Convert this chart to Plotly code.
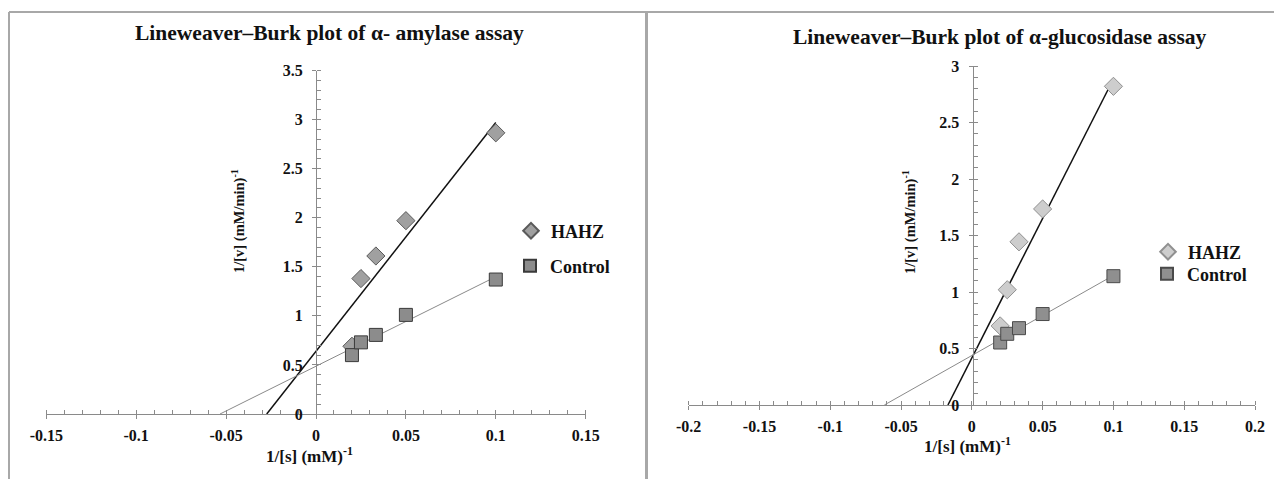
import numpy as np
import plotly.graph_objects as go

W, H = 1274, 479

# ---- data ----
s_inv = [0.02, 0.025, 0.0333, 0.05, 0.1]
amy_hahz = [0.69, 1.38, 1.61, 1.97, 2.865]
amy_ctrl = [0.60, 0.73, 0.806, 1.01, 1.37]
glu_hahz = [0.70, 1.02, 1.444, 1.735, 2.82]
glu_ctrl = [0.553, 0.63, 0.68, 0.805, 1.14]

amy_xticks = [-0.15, -0.1, -0.05, 0, 0.05, 0.1, 0.15]
amy_yticks = [0, 0.5, 1, 1.5, 2, 2.5, 3, 3.5]
glu_xticks = [-0.2, -0.15, -0.1, -0.05, 0, 0.05, 0.1, 0.15, 0.2]
glu_yticks = [0, 0.5, 1, 1.5, 2, 2.5, 3]

FONT = "Liberation Serif"

def px_x(p):
    return p / W

def px_y(p):
    return 1 - p / H

def fit_line(x, y):
    m, b = np.polyfit(x, y, 1)
    x0 = -b / m
    x1 = max(x)
    return [x0, x1], [m * x0 + b, m * x1 + b]

fig = go.Figure()

# ---- left: amylase ----
lx, ly = fit_line(s_inv, amy_hahz)
fig.add_trace(go.Scatter(x=lx, y=ly, mode="lines", line=dict(color="#111", width=1.5),
                         showlegend=False, xaxis="x", yaxis="y", hoverinfo="skip"))
lx, ly = fit_line(s_inv, amy_ctrl)
fig.add_trace(go.Scatter(x=lx, y=ly, mode="lines", line=dict(color="#8a8a8a", width=1),
                         showlegend=False, xaxis="x", yaxis="y", hoverinfo="skip"))
fig.add_trace(go.Scatter(x=s_inv, y=amy_hahz, mode="markers", name="HAHZ",
                         marker=dict(symbol="diamond", size=14, color="#a0a0a0",
                                     line=dict(color="#5a5a5a", width=1)),
                         xaxis="x", yaxis="y", legend="legend"))
fig.add_trace(go.Scatter(x=s_inv, y=amy_ctrl, mode="markers", name="Control",
                         marker=dict(symbol="square", size=13, color="#8c8c8c",
                                     line=dict(color="#3a3a3a", width=1)),
                         xaxis="x", yaxis="y", legend="legend2"))

# ---- right: glucosidase ----
lx, ly = fit_line(s_inv, glu_hahz)
fig.add_trace(go.Scatter(x=lx, y=ly, mode="lines", line=dict(color="#111", width=1.5),
                         showlegend=False, xaxis="x2", yaxis="y2", hoverinfo="skip"))
lx, ly = fit_line(s_inv, glu_ctrl)
fig.add_trace(go.Scatter(x=lx, y=ly, mode="lines", line=dict(color="#8a8a8a", width=1),
                         showlegend=False, xaxis="x2", yaxis="y2", hoverinfo="skip"))
fig.add_trace(go.Scatter(x=s_inv, y=glu_hahz, mode="markers", name="HAHZ",
                         marker=dict(symbol="diamond", size=14, color="#cdcdcd",
                                     line=dict(color="#909090", width=1)),
                         xaxis="x2", yaxis="y2", legend="legend3"))
fig.add_trace(go.Scatter(x=s_inv, y=glu_ctrl, mode="markers", name="Control",
                         marker=dict(symbol="square", size=13, color="#8f8f8f",
                                     line=dict(color="#4a4a4a", width=1)),
                         xaxis="x2", yaxis="y2", legend="legend4"))

tickfont = dict(family=FONT, size=16, color="#111", weight="bold")
axcol = "#8a8a8a"

def xaxis(domain, rng, ticks, anchor):
    return dict(domain=domain, range=rng, tickvals=ticks, ticktext=[f"{t:g}" for t in ticks],
                showline=True, linecolor=axcol, linewidth=1, ticks="outside", ticklen=4,
                tickcolor=axcol, tickfont=tickfont, showgrid=False, zeroline=False,
                anchor=anchor, fixedrange=True, automargin=False, ticklabelstandoff=3,
                minor=dict(dtick=0.01, tick0=0, ticks="inside", ticklen=4, tickcolor=axcol,
                           showgrid=False))

def yaxis(domain, rng, ticks, position):
    return dict(domain=domain, range=rng, tickvals=ticks, ticktext=[f"{t:g}" for t in ticks],
                showline=True, linecolor=axcol, linewidth=1, ticks="outside", ticklen=4,
                tickcolor=axcol, tickfont=tickfont, showgrid=False, zeroline=False,
                anchor="free", position=position, fixedrange=True, automargin=False,
                ticklabelstandoff=6,
                minor=dict(dtick=0.1, tick0=0, ticks="inside", ticklen=4, tickcolor=axcol,
                           showgrid=False))

L_dom_x = [px_x(46.3), px_x(585.7)]
L_dom_y = [px_y(414), px_y(70.5)]
R_dom_x = [px_x(688.7), px_x(1255)]
R_dom_y = [px_y(405), px_y(66)]

legfont = dict(family=FONT, size=18, color="#111", weight="bold")

def leg(xtext, ycenter):
    return dict(x=px_x(xtext - 40), y=px_y(ycenter), xanchor="left", yanchor="middle",
                font=legfont, bgcolor="rgba(0,0,0,0)", itemsizing="constant",
                borderwidth=0)

fig.update_layout(
    width=W, height=H, margin=dict(l=0, r=0, t=0, b=0, autoexpand=False),
    paper_bgcolor="white", plot_bgcolor="rgba(0,0,0,0)",
    xaxis=xaxis(L_dom_x, [-0.15, 0.15], amy_xticks, "y"),
    yaxis=yaxis(L_dom_y, [0, 3.5], amy_yticks, px_x(316)),
    xaxis2=xaxis(R_dom_x, [-0.2, 0.2], glu_xticks, "y2"),
    yaxis2=yaxis(R_dom_y, [0, 3], glu_yticks, px_x(972.5)),
    legend=leg(551, 231),
    legend2=leg(550, 266),
    legend3=leg(1188, 252),
    legend4=leg(1187, 274),
    showlegend=True,
)

def note(text, x, y, font, angle=0):
    return dict(text=text, x=px_x(x), y=px_y(y), xref="paper", yref="paper",
                xanchor="center", yanchor="middle", showarrow=False, font=font,
                textangle=angle)

tf = dict(family=FONT, size=21.5, color="#111", weight="bold")
ytf = dict(family=FONT, size=14.5, color="#111", weight="bold")
xtf = dict(family=FONT, size=17, color="#111", weight="bold")
ann = [
    note("Lineweaver–Burk plot of α- amylase assay", 330, 33, tf),
    note("Lineweaver–Burk plot of α-glucosidase assay", 1000, 37, tf),
    note("1/[v] (mM/min)<sup>-1</sup>", 238, 221, ytf, -90),
    note("1/[v] (mM/min)<sup>-1</sup>", 909, 222, ytf, -90),
    note("1/[s] (mM)<sup>-1</sup>", 309, 455, xtf),
    note("1/[s] (mM)<sup>-1</sup>", 967, 445, xtf),
]
fig.update_layout(annotations=ann)

bc = "#a8a8a8"
shapes = [
    dict(type="line", xref="paper", yref="paper", x0=px_x(9), x1=1, y0=px_y(12), y1=px_y(12),
         line=dict(color=bc, width=2)),
    dict(type="line", xref="paper", yref="paper", x0=px_x(9), x1=px_x(9), y0=px_y(12), y1=0,
         line=dict(color=bc, width=2)),
    dict(type="line", xref="paper", yref="paper", x0=px_x(646.5), x1=px_x(646.5), y0=px_y(12), y1=0,
         line=dict(color=bc, width=3)),
]
fig.update_layout(shapes=shapes)

fig.write_html("out.html", config={"displayModeBar": False},
               post_script="document.body.style.margin='0';document.body.style.overflow='hidden';")
